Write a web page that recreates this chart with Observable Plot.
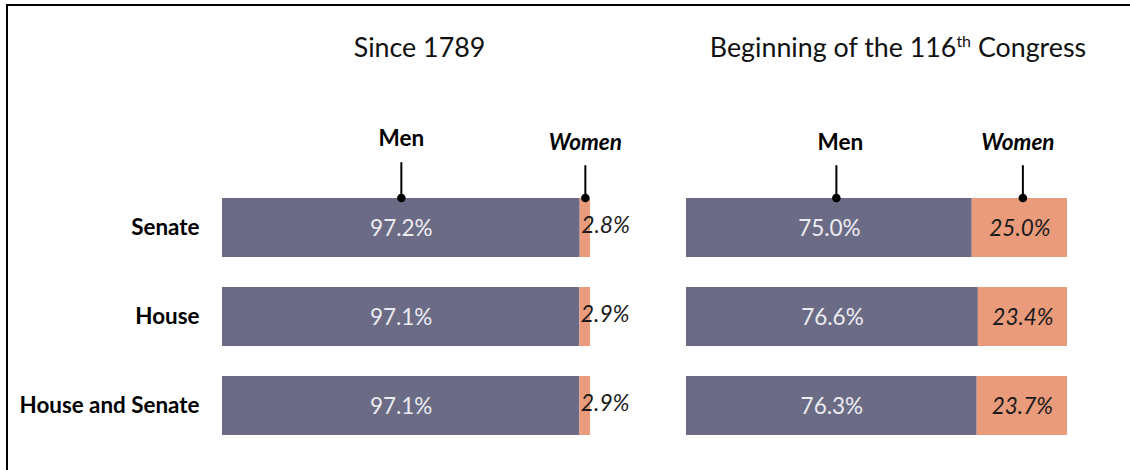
<!DOCTYPE html>
<html>
<head>
<meta charset="utf-8">
<script src="https://cdn.jsdelivr.net/npm/d3@7"></script>
<script src="https://cdn.jsdelivr.net/npm/@observablehq/plot@0.6"></script>
<style>
  html, body { margin: 0; padding: 0; background: #fff; }
  #wrap { position: relative; width: 1130px; height: 470px; overflow: hidden; background: #fff; font-family: Lato, sans-serif; }
  #wrap svg { position: absolute; top: 0; }
  #frame { position: absolute; left: 6px; top: 4px; width: 2000px; height: 1000px; border-top: 2px solid #000; border-left: 2px solid #000; box-sizing: border-box; }
</style>
</head>
<body>
<div id="wrap"></div>
<script>
// ---- data ----
const chambers = ["Senate", "House", "House and Senate"];
const genders = ["Men", "Women"];
const since1789Men = [97.2, 97.1, 97.1];
const since1789Women = [2.8, 2.9, 2.9];
const congress116Men = [75.0, 76.6, 76.3];
const congress116Women = [25.0, 23.4, 23.7];
const panelTitles = ["Since 1789", "Beginning of the 116th Congress"];

const MEN = "#6b6b86", WOMEN = "#e99b7b";

function rows(men, women) {
  return chambers.flatMap((c, i) => [
    {chamber: c, gender: "Men", value: men[i], start: 0},
    {chamber: c, gender: "Women", value: women[i], start: men[i]}
  ]);
}

const lineShape = {
  draw(context, length) {
    context.moveTo(0, 0);
    context.lineTo(0, -length);
  }
};

function panel(o) {
  const data = rows(o.men, o.women);
  const menRows = data.filter(d => d.gender === "Men");
  const womenRows = data.filter(d => d.gender === "Women");
  const senate = data.filter(d => d.chamber === chambers[0]);
  const senMen = senate.filter(d => d.gender === "Men");
  const senWomen = senate.filter(d => d.gender === "Women");
  const mid = d => d.start + d.value / 2;
  const marks = [
    Plot.barX(data, Plot.stackX({x: "value", y: "chamber", fill: "gender"})),
    Plot.text(menRows, {x: mid, y: "chamber", text: d => d.value.toFixed(1) + "%", fill: "#ececf0", fontSize: 22.5, dy: 1}),
    o.womenInside
      ? Plot.text(womenRows, {x: mid, y: "chamber", text: d => d.value.toFixed(1) + "%", fill: "#1a1a1a", fontSize: 22.5, fontStyle: "italic", dy: 1})
      : Plot.text(womenRows, {x: "start", y: "chamber", text: d => d.value.toFixed(1) + "%", fill: "#1a1a1a", fontSize: 22.8, fontStyle: "italic", textAnchor: "start", dx: 1, dy: -2}),
    // leaders
    Plot.vector(senMen, {x: mid, y: "chamber", length: o.menLen, rotate: 0, anchor: "start", shape: lineShape, stroke: "#000", strokeWidth: 2, dy: -30, dx: o.menDx}),
    Plot.vector(senWomen, {x: mid, y: "chamber", length: 32, rotate: 0, anchor: "start", shape: lineShape, stroke: "#000", strokeWidth: 2, dy: -30, dx: o.womenDx}),
    Plot.dot(senMen, {x: mid, y: "chamber", r: 4.3, fill: "#000", dy: -30, dx: o.menDx}),
    Plot.dot(senWomen, {x: mid, y: "chamber", r: 4.3, fill: "#000", dy: -30, dx: o.womenDx}),
    Plot.text(senMen, {x: mid, y: "chamber", text: "gender", dy: o.menLabelDy, dx: o.menLabelDx, fontWeight: "bold", fontSize: 22.5, fill: "#000"}),
    Plot.text(senWomen, {x: mid, y: "chamber", text: "gender", dy: -85.5, dx: o.womenLabelDx, fontWeight: "bold", fontStyle: "italic", fontSize: 22.5, fill: "#000"}),
    // title
    Plot.text([o.title], {x: () => 50, frameAnchor: "top", lineAnchor: "middle", text: d => d, dy: -134, dx: o.titleDx, fontSize: 26.8, fill: "#111"})
  ];
  if (o.showY) {
    marks.push(Plot.axisY({tickSize: 0, tickPadding: 23, fontSize: 22.4, fontWeight: "bold", fill: "#000", label: null}));
  }
  return Plot.plot({
    width: o.width, height: 470,
    marginLeft: o.marginLeft, marginRight: o.marginRight, marginTop: 182, marginBottom: 20,
    style: {fontFamily: "Lato, sans-serif", background: "transparent", overflow: "visible"},
    x: {domain: [0, 100], axis: null},
    y: {domain: chambers, paddingInner: 0.34, paddingOuter: 0.17, axis: null},
    color: {domain: genders, range: [MEN, WOMEN]},
    marks
  });
}

const wrap = document.getElementById("wrap");

const left = panel({
  men: since1789Men, women: since1789Women, title: panelTitles[0],
  width: 650, marginLeft: 222, marginRight: 60, showY: true, womenInside: false,
  titleDx: 13, menLen: 35, menDx: 0, womenDx: 0, menLabelDy: -89.5, menLabelDx: 0, womenLabelDx: 0
});
left.style.left = "0px";
wrap.appendChild(left);

const right = panel({
  men: congress116Men, women: congress116Women, title: panelTitles[1],
  width: 480, marginLeft: 36, marginRight: 63, showY: false, womenInside: true,
  titleDx: 21, menLen: 32, menDx: 7, womenDx: 3, menLabelDy: -85.5, menLabelDx: 11, womenLabelDx: -2
});
right.style.left = "650px";
wrap.appendChild(right);

// superscript "th" in the second title
d3.select(right).selectAll("text").filter(function() { return this.textContent === panelTitles[1]; }).each(function() {
  const t = d3.select(this);
  const m = panelTitles[1].match(/^(.*\d)(th)(.*)$/);
  t.text(null);
  t.append("tspan").text(m[1]);
  t.append("tspan").text(m[2]).attr("font-size", 16).attr("dy", "-10");
  t.append("tspan").text(m[3]).attr("dy", "10");
});

const frame = document.createElement("div");
frame.id = "frame";
wrap.appendChild(frame);
</script>
</body>
</html>
